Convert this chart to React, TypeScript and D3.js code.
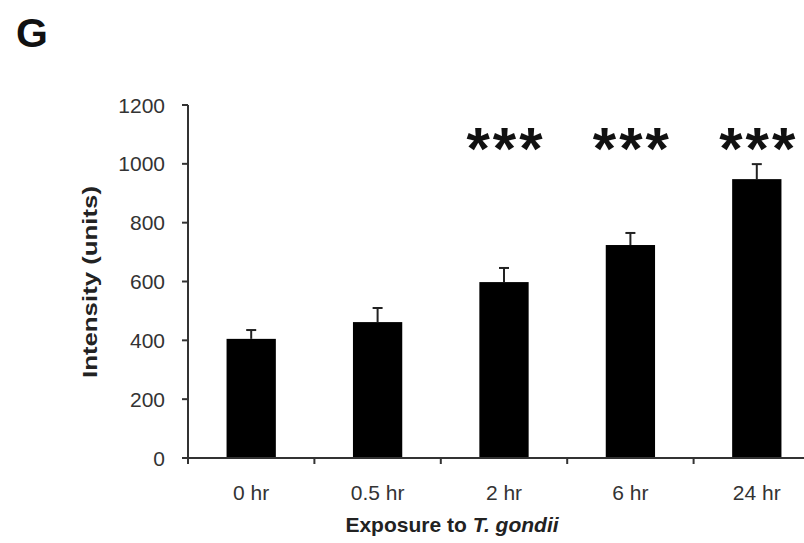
import React, { useEffect, useRef } from "react";
import * as d3 from "d3";

const categories = ["0 hr", "0.5 hr", "2 hr", "6 hr", "24 hr"];
const means = [405, 462, 598, 724, 948];
const errors = [30, 48, 48, 41, 51];
const stars = ["", "", "***", "***", "***"];
const yTicks = [0, 200, 400, 600, 800, 1000, 1200];

const W = 804;
const H = 543;

const App = () => {
  const svgRef = useRef<SVGSVGElement>(null);

  useEffect(() => {
    document.body.style.margin = "0";
    const font = "Arial, 'Liberation Sans', Helvetica, sans-serif";

    const x = d3
      .scaleBand<string>()
      .domain(categories)
      .range([188, 820])
      .paddingInner(0.61)
      .paddingOuter(0.305);
    const y = d3.scaleLinear().domain([0, 1200]).range([458, 105]);
    const step = x.step();

    const svg = d3.select(svgRef.current);
    svg.selectAll("*").remove();
    svg.attr("width", W).attr("height", H).style("font-family", font);

    svg.append("rect").attr("width", W).attr("height", H).attr("fill", "#fff");

    // panel letter
    svg
      .append("text")
      .attr("x", 16)
      .attr("y", 47)
      .attr("font-size", 41)
      .attr("font-weight", "bold")
      .attr("fill", "#111")
      .text("G");

    // bars
    svg
      .selectAll("rect.bar")
      .data(means)
      .enter()
      .append("rect")
      .attr("class", "bar")
      .attr("x", (_, i) => x(categories[i])!)
      .attr("y", (d) => y(d))
      .attr("width", x.bandwidth())
      .attr("height", (d) => y(0) - y(d))
      .attr("fill", "#000");

    // error bars
    const eg = svg.append("g").attr("stroke", "#222").attr("stroke-width", 2);
    means.forEach((m, i) => {
      const cx = x(categories[i])! + x.bandwidth() / 2;
      eg.append("line")
        .attr("x1", cx)
        .attr("x2", cx)
        .attr("y1", y(m))
        .attr("y2", y(m + errors[i]));
      eg.append("line")
        .attr("x1", cx - 5)
        .attr("x2", cx + 5)
        .attr("y1", y(m + errors[i]))
        .attr("y2", y(m + errors[i]));
    });

    // significance stars
    svg
      .selectAll("text.star")
      .data(stars)
      .enter()
      .append("text")
      .attr("class", "star")
      .attr("x", (_, i) => x(categories[i])! + x.bandwidth() / 2 + 2)
      .attr("y", y(1200) + 64)
      .attr("text-anchor", "middle")
      .attr("font-size", 60)
      .attr("font-weight", "bold")
      .attr("letter-spacing", 3)
      .attr("fill", "#111")
      .text((d) => d);

    // y axis
    const ax = svg.append("g").attr("stroke", "#333").attr("stroke-width", 2);
    ax.append("line").attr("x1", 188).attr("x2", 188).attr("y1", y(1200)).attr("y2", y(0));
    yTicks.forEach((t) => {
      ax.append("line").attr("x1", 182).attr("x2", 188).attr("y1", y(t)).attr("y2", y(t));
    });
    svg
      .selectAll("text.ytick")
      .data(yTicks)
      .enter()
      .append("text")
      .attr("class", "ytick")
      .attr("x", 165)
      .attr("y", (d) => y(d))
      .attr("dy", "0.36em")
      .attr("text-anchor", "end")
      .attr("font-size", 21)
      .attr("fill", "#333")
      .text((d) => d);

    // x axis
    ax.append("line").attr("x1", 182).attr("x2", 820).attr("y1", y(0)).attr("y2", y(0));
    d3.range(categories.length + 1).forEach((i) => {
      const tx = 188 + i * step;
      ax.append("line").attr("x1", tx).attr("x2", tx).attr("y1", y(0)).attr("y2", y(0) + 6);
    });
    svg
      .selectAll("text.xtick")
      .data(categories)
      .enter()
      .append("text")
      .attr("class", "xtick")
      .attr("x", (d) => x(d)! + x.bandwidth() / 2)
      .attr("y", 500)
      .attr("text-anchor", "middle")
      .attr("font-size", 21)
      .attr("fill", "#333")
      .text((d) => d);

    // axis titles
    const xt = svg
      .append("text")
      .attr("x", 452)
      .attr("y", 532)
      .attr("text-anchor", "middle")
      .attr("font-size", 21)
      .attr("font-weight", "bold")
      .attr("fill", "#222");
    xt.append("tspan").text("Exposure to ");
    xt.append("tspan").attr("font-style", "italic").text("T. gondii");

    svg
      .append("text")
      .attr("transform", "translate(97,282) rotate(-90)")
      .attr("text-anchor", "middle")
      .attr("font-size", 21)
      .attr("font-weight", "bold")
      .attr("fill", "#222")
      .attr("textLength", 192)
      .attr("lengthAdjust", "spacingAndGlyphs")
      .text("Intensity (units)");
  }, []);

  return <svg ref={svgRef} style={{ display: "block" }}></svg>;
};

export default App;
